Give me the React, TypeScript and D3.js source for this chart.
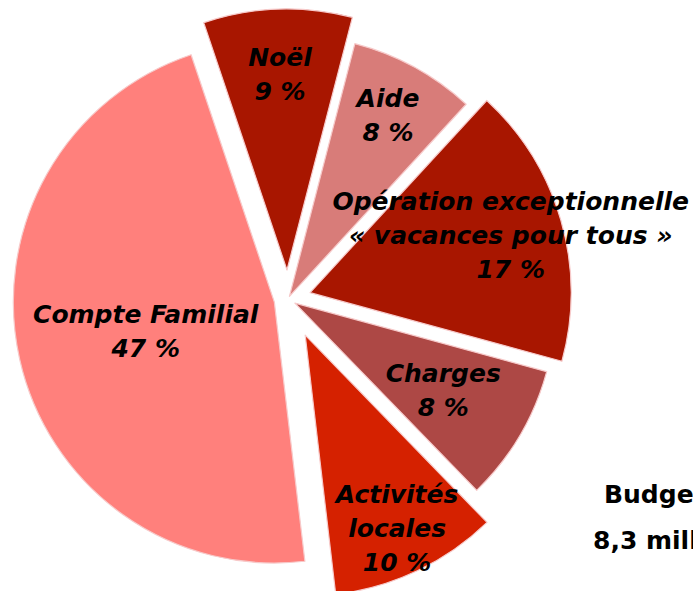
import React from "react";
import * as d3 from "d3";

// ---- data ----
const categories = [
  "Noël",
  "Aide",
  "Opération exceptionnelle « vacances pour tous »",
  "Charges",
  "Activités locales",
  "Compte Familial",
];
const labelLines = [
  ["Noël"],
  ["Aide"],
  ["Opération exceptionnelle", "« vacances pour tous »"],
  ["Charges"],
  ["Activités", "locales"],
  ["Compte Familial"],
];
const values = [9.2, 7.8, 17.4, 8.5, 10.4, 46.7];
const percentLabels = ["9 %", "8 %", "17 %", "8 %", "10 %", "47 %"];
const budgetLines = ["Budget", "8,3 millions €"];

// ---- layout / style ----
const W = 693;
const H = 591;
const CX = 288;
const CY = 299;
const R = 261;
const explode = [29, 3, 23, 8, 40, 14];
const labelR = [0.75, 0.79, 0.8, 0.66, 0.82, 0.505];
const colors = ["#A81600", "#D87C79", "#A81600", "#AD4845", "#D52100", "#FF807C"];
const FONT = "'DejaVu Sans', Verdana, sans-serif";
const FS = 25;
const LH = 34;

export default function App() {
  const pie = d3
    .pie<number>()
    .sort(null)
    .value((d) => d)
    .startAngle((-18.6 * Math.PI) / 180)
    .endAngle((-18.6 * Math.PI) / 180 + 2 * Math.PI);
  const arcs = pie(values);
  const arc = d3.arc<d3.PieArcDatum<number>>().innerRadius(0).outerRadius(R);

  return (
    <svg
      width={W}
      height={H}
      style={{ position: "absolute", left: 0, top: 0, background: "#fff" }}
    >
      {arcs.map((a, i) => {
        const mid = (a.startAngle + a.endAngle) / 2;
        const ox = CX + explode[i] * Math.sin(mid);
        const oy = CY - explode[i] * Math.cos(mid);
        return (
          <g key={categories[i]} transform={`translate(${ox},${oy})`}>
            <path
              d={arc(a) || ""}
              fill={colors[i]}
              stroke="#f7caca"
              strokeWidth={1.2}
              strokeLinejoin="round"
            />
          </g>
        );
      })}
      {arcs.map((a, i) => {
        const mid = (a.startAngle + a.endAngle) / 2;
        const ox = CX + explode[i] * Math.sin(mid);
        const oy = CY - explode[i] * Math.cos(mid);
        const lx = ox + labelR[i] * R * Math.sin(mid);
        const ly = oy - labelR[i] * R * Math.cos(mid);
        const lines = [...labelLines[i], percentLabels[i]];
        const top = ly - ((lines.length - 1) * LH) / 2;
        return (
          <text
            key={"l" + i}
            textAnchor="middle"
            fontFamily={FONT}
            fontWeight={700}
            fontStyle="italic"
            fontSize={FS}
            fill="#000"
          >
            {lines.map((t, j) => (
              <tspan key={j} x={lx} y={top + j * LH} dy="0.35em">
                {t}
              </tspan>
            ))}
          </text>
        );
      })}
      <text fontFamily={FONT} fontWeight={700} fontSize={FS} fill="#000">
        <tspan x={604} y={494} dy="0.35em">
          {budgetLines[0]}
        </tspan>
        <tspan x={593} y={540} dy="0.35em">
          {budgetLines[1]}
        </tspan>
      </text>
    </svg>
  );
}
